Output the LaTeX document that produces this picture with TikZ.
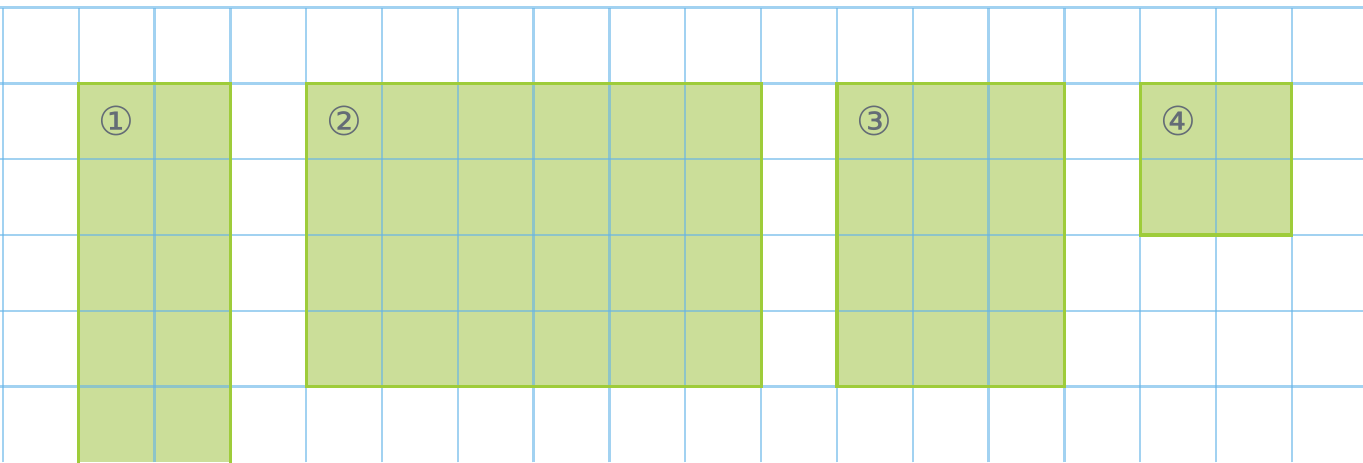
\documentclass[tikz,border=0pt]{standalone}
\usepackage{fontspec}
\newfontfamily\symfont{DejaVu Sans}
\usetikzlibrary{positioning}

\definecolor{gridblue}{RGB}{100,180,232}
\definecolor{plotfill}{RGB}{203,222,153}
\definecolor{plotedge}{RGB}{158,204,58}
\definecolor{markgray}{RGB}{100,108,118}

\begin{document}
\begin{tikzpicture}[
  gridline/.style={gridblue, line width=0.9pt, opacity=0.6},
  plot/.style={draw=plotedge, line width=1.2pt},
  mark label/.style={font=\symfont\fontsize{15}{15}\selectfont, text=markgray, inner sep=0pt}
]
\useasboundingbox (-0.04,0) rectangle (17.94,6.1);

% shaded plots
\fill[plotfill] (1,0) rectangle (3,5);
\fill[plotfill] (4,1) rectangle (10,5);
\fill[plotfill] (11,1) rectangle (14,5);
\fill[plotfill] (15,3) rectangle (17,5);

% squared paper
\foreach \x in {0,...,17}
  \draw[gridline] (\x,0) -- (\x,6);
\foreach \y in {1,...,6}
  \draw[gridline] (-0.04,\y) -- (17.94,\y);

% outlines
\draw[plot] (1,-0.1) -- (1,5) -- (3,5) -- (3,-0.1);
\draw[plot] (4,1) rectangle (10,5);
\draw[plot] (11,1) rectangle (14,5);
\draw[plot] (15,3) rectangle (17,5);

\node[mark label] (m1) at (1.5,4.5) {①};
\node[mark label] (m2) at (4.5,4.5) {②};
\node[mark label] (m3) at (11.5,4.5) {③};
\node[mark label] (m4) at (15.5,4.5) {④};

\end{tikzpicture}
\end{document}
